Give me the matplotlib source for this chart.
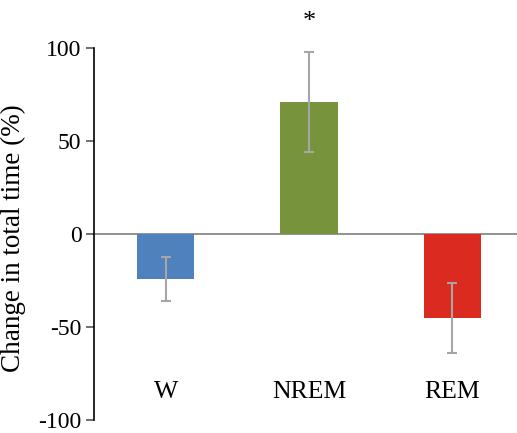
import matplotlib.pyplot as plt

stages = ["W", "NREM", "REM"]
change = [-24.3, 70.8, -45.2]
sem = [11.7, 26.9, 18.7]
colors = ["#4f81bd", "#77933c", "#db2a20"]
yticks = [-100, -50, 0, 50, 100]

plt.rcParams["font.family"] = ["Liberation Serif", "DejaVu Serif"]
plt.rcParams["axes.unicode_minus"] = False

fig = plt.figure(figsize=(5.17, 4.33), dpi=100)
ax = fig.add_axes([94 / 517, 13 / 433, 423 / 517, 372 / 433])

x = list(range(len(stages)))
ax.bar(x, change, width=0.4, color=colors, zorder=2)
ax.errorbar(x, change, yerr=sem, fmt="none", ecolor="#a6a6a6",
            elinewidth=1.5, capsize=3.5, capthick=1.5, zorder=3)
ax.axhline(0, color="#7f7f7f", linewidth=1.2, zorder=1)

for xi, name in zip(x, stages):
    ax.text(xi, -85, name, ha="center", va="center", fontsize=18.5)
ax.text(1, 114, "*", ha="center", va="center", fontsize=19, clip_on=False)

ax.set_xlim(-0.5, 2.45)
ax.set_ylim(-100, 100)
ax.set_yticks(yticks)
ax.set_xticks([])
ax.tick_params(axis="y", labelsize=17, length=6, width=1.2,
               color="#555555", direction="out", pad=3)
for side in ["top", "right", "bottom"]:
    ax.spines[side].set_visible(False)
ax.spines["left"].set_linewidth(1.2)
ax.set_ylabel("Change in total time (%)", fontsize=19.5)
ax.yaxis.set_label_coords(-0.16, 0.489)

fig.savefig("out.png", dpi=100)
